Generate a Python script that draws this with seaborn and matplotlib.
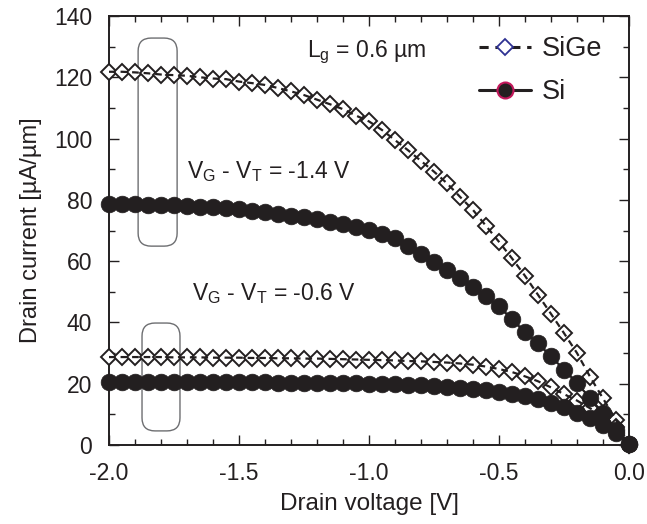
import numpy as np
import pandas as pd
import matplotlib
matplotlib.use("Agg")
import matplotlib.pyplot as plt
import seaborn as sns
from matplotlib.patches import FancyBboxPatch
from matplotlib.lines import Line2D
from matplotlib.ticker import MultipleLocator

# ---------------- data ----------------
drain_v = [-2.0, -1.95, -1.9, -1.85, -1.8, -1.75, -1.7, -1.65, -1.6, -1.55,
           -1.5, -1.45, -1.4, -1.35, -1.3, -1.25, -1.2, -1.15, -1.1, -1.05,
           -1.0, -0.95, -0.9, -0.85, -0.8, -0.75, -0.7, -0.65, -0.6, -0.55,
           -0.5, -0.45, -0.4, -0.35, -0.3, -0.25, -0.2, -0.15, -0.1, -0.05, 0.0]

sige_high = [121.8, 121.8, 121.6, 121.3, 120.9, 120.7, 120.5, 120.0, 119.6, 119.4,
             118.6, 118.1, 117.5, 116.5, 115.4, 114.2, 112.7, 111.2, 109.6, 107.5,
             105.6, 102.8, 99.5, 96.2, 92.7, 89.2, 85.4, 81.0, 76.7, 71.5,
             66.3, 60.9, 55.2, 49.0, 42.8, 36.5, 30.0, 22.3, 15.2, 8.2, 0.0]

si_high = [78.6, 78.6, 78.6, 78.4, 78.3, 78.2, 78.0, 77.8, 77.6, 77.2,
           76.9, 76.5, 75.9, 75.4, 74.8, 74.3, 73.7, 72.9, 72.1, 71.3,
           70.2, 68.9, 67.5, 65.0, 62.2, 59.6, 57.1, 54.4, 51.7, 48.5,
           45.2, 41.1, 36.8, 33.2, 28.9, 24.6, 20.2, 15.3, 10.4, 4.8, 0.3]

sige_low = [28.7, 28.7, 28.7, 28.7, 28.7, 28.6, 28.6, 28.6, 28.5, 28.5,
            28.5, 28.4, 28.4, 28.3, 28.3, 28.2, 28.2, 28.1, 28.0, 27.9,
            27.8, 27.7, 27.6, 27.4, 27.3, 27.1, 26.9, 26.6, 26.2, 25.6,
            24.8, 23.8, 22.4, 20.8, 18.8, 16.6, 14.5, 12.0, 9.6, 6.0, 0.0]

si_low = [20.5, 20.5, 20.5, 20.5, 20.5, 20.5, 20.5, 20.5, 20.5, 20.4,
          20.4, 20.4, 20.4, 20.3, 20.3, 20.3, 20.2, 20.2, 20.1, 20.1,
          20.0, 19.9, 19.8, 19.7, 19.5, 19.3, 19.0, 18.7, 18.3, 17.9,
          17.4, 16.8, 16.0, 15.0, 13.8, 12.3, 10.5, 8.7, 6.5, 3.8, 0.3]

x_ticks = [-2.0, -1.5, -1.0, -0.5, 0.0]
x_ticklabels = ["-2.0", "-1.5", "-1.0", "-0.5", "0.0"]
y_ticks = [0, 20, 40, 60, 80, 100, 120, 140]

legend_labels = ["SiGe", "Si"]
xlabel = "Drain voltage [V]"
ylabel = "Drain current [\u00b5A/\u00b5m]"
ann_lg = "L$_\\mathregular{g}$ = 0.6 \u00b5m"
ann_hi = "V$_\\mathregular{G}$ - V$_\\mathregular{T}$ = -1.4 V"
ann_lo = "V$_\\mathregular{G}$ - V$_\\mathregular{T}$ = -0.6 V"

df = pd.DataFrame({
    "V": drain_v * 4,
    "I": sige_high + si_high + sige_low + si_low,
    "material": ["SiGe"] * 41 + ["Si"] * 41 + ["SiGe"] * 41 + ["Si"] * 41,
    "bias": ["hi"] * 82 + ["lo"] * 82,
})

# ---------------- style ----------------
sns.set_theme(style="ticks")
ink = "#231f20"
plt.rcParams["font.family"] = ["Liberation Sans", "DejaVu Sans"]
plt.rcParams["mathtext.default"] = "regular"
plt.rcParams["axes.unicode_minus"] = False

fig = plt.figure(figsize=(6.47, 5.24), dpi=100)
ax = fig.add_axes([109 / 647, 1 - 445 / 524, 520 / 647, 429 / 524])

dash = (0, (3.0, 2.2))
for bias in ["hi", "lo"]:
    d = df[(df.material == "SiGe") & (df.bias == bias)]
    sns.lineplot(data=d, x="V", y="I", ax=ax, errorbar=None, linestyle="none",
                 marker="D", markersize=8.3, markerfacecolor="white",
                 markeredgecolor=ink, markeredgewidth=1.4, clip_on=False, zorder=3)
    sns.lineplot(data=d, x="V", y="I", ax=ax, errorbar=None, color=ink,
                 linestyle=dash, linewidth=1.6, clip_on=False, zorder=4)
for bias in ["hi", "lo"]:
    d = df[(df.material == "Si") & (df.bias == bias)]
    sns.lineplot(data=d, x="V", y="I", ax=ax, errorbar=None, color=ink,
                 linewidth=1.6, marker="o", markersize=12, markerfacecolor=ink,
                 markeredgecolor=ink, markeredgewidth=0.5, clip_on=False, zorder=5)

ax.set_xlim(-2.0, 0.0)
ax.set_ylim(0, 140)
ax.set_xticks(x_ticks)
ax.set_xticklabels(x_ticklabels)
ax.set_yticks(y_ticks)
ax.xaxis.set_minor_locator(MultipleLocator(0.1))
ax.yaxis.set_minor_locator(MultipleLocator(10))
ax.tick_params(which="both", direction="in", top=True, right=True,
               color=ink, width=1.0, labelsize=16.5, labelcolor=ink, pad=12)
ax.tick_params(which="major", length=7)
ax.tick_params(which="minor", length=4.5)
for s in ax.spines.values():
    s.set_color(ink)
    s.set_linewidth(1.4)

ax.set_xlabel(xlabel, fontsize=17.5, color=ink, labelpad=6)
ax.set_ylabel(ylabel, fontsize=17, color=ink, labelpad=9)

# annotations
ax.text(-1.238, 126.6, ann_lg, fontsize=16.5, color=ink, ha="left", va="baseline")
ax.text(-1.70, 87.1, ann_hi, fontsize=16.5, color=ink, ha="left", va="baseline")
ax.text(-1.68, 47.3, ann_lo, fontsize=16.5, color=ink, ha="left", va="baseline")

# rounded boxes (pixel-consistent rounding)
px_x = 520 / 2.0
px_y = 429 / 140.0
aspect = px_x / px_y
r = 13 / px_x
for (x0, x1, y0, y1) in [(-1.888, -1.738, 64.9, 132.8), (-1.873, -1.727, 4.6, 39.8)]:
    p = FancyBboxPatch((x0, y0), x1 - x0, y1 - y0,
                       boxstyle=f"round,pad=0,rounding_size={r}",
                       mutation_aspect=aspect, facecolor="none",
                       edgecolor="#6d6e71", linewidth=1.0, zorder=2)
    ax.add_patch(p)

# legend
h_sige = Line2D([], [], color=ink, linestyle=dash, linewidth=2.2, marker="D",
                markersize=8, markerfacecolor="white", markeredgecolor="#2e3192",
                markeredgewidth=1.3)
h_si = Line2D([], [], color=ink, linewidth=2.2, marker="o", markersize=11.5,
              markerfacecolor=ink, markeredgecolor="#c2185b", markeredgewidth=1.5)
leg = ax.legend([h_sige, h_si], legend_labels, loc="upper left",
                bbox_to_anchor=(0.712, 0.953), frameon=False, fontsize=19.5,
                handlelength=1.9, handletextpad=0.4, labelspacing=0.63,
                borderpad=0, borderaxespad=0)
for t in leg.get_texts():
    t.set_color(ink)

fig.savefig("out.png", dpi=100)
